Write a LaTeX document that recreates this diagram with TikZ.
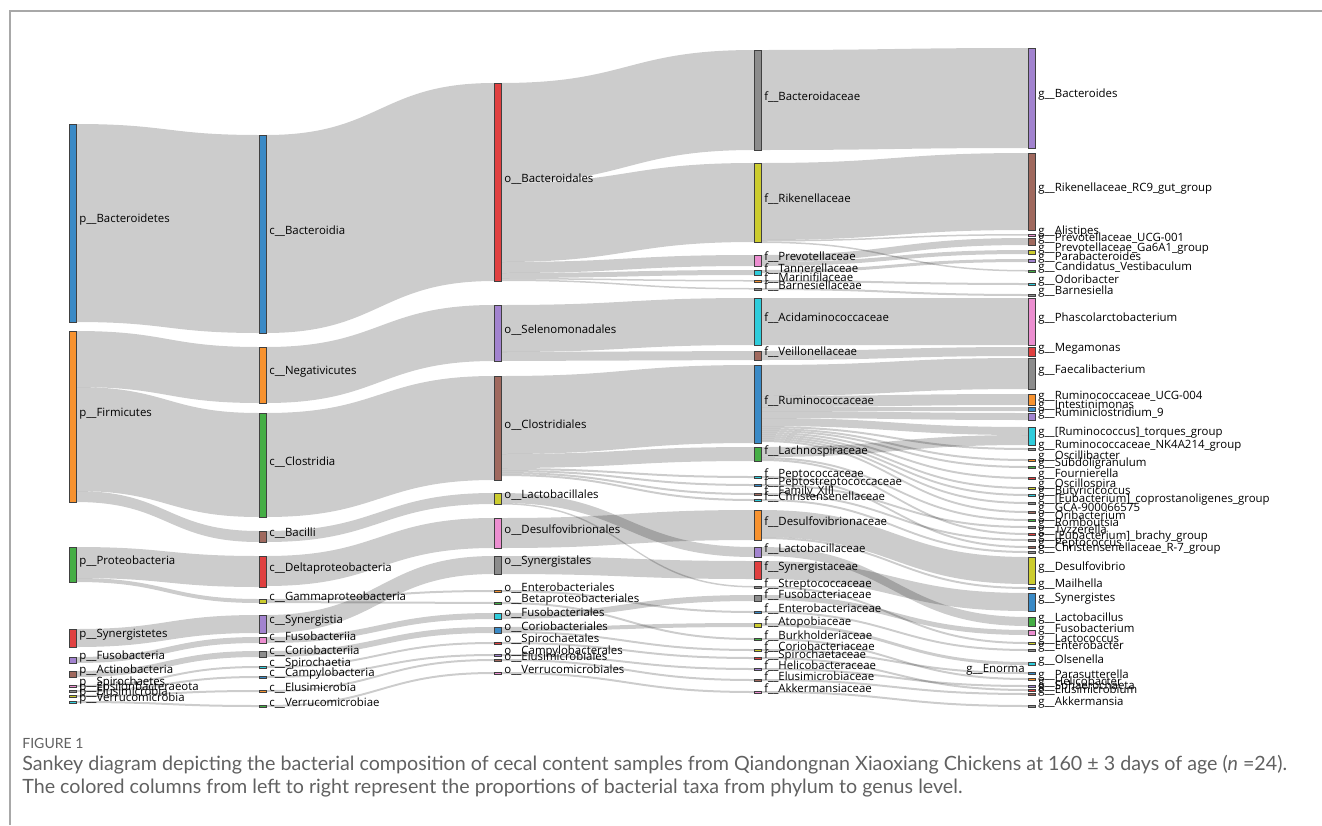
\documentclass[tikz,border=0pt]{standalone}
\usepackage{fontspec}
\setmainfont{Open Sans}
\newfontfamily\capfont{Lato}
\usetikzlibrary{calc}
\pgfdeclarelayer{background}
\pgfsetlayers{background,main}
\definecolor{pblue}{HTML}{3A8AC6}
\definecolor{porange}{HTML}{F7922F}
\definecolor{pgreen}{HTML}{45AE45}
\definecolor{pred}{HTML}{E04040}
\definecolor{ppurple}{HTML}{A283CF}
\definecolor{pbrown}{HTML}{A0695E}
\definecolor{ppink}{HTML}{EC8ED0}
\definecolor{pgray}{HTML}{8C8C8C}
\definecolor{polive}{HTML}{CCCC2E}
\definecolor{pcyan}{HTML}{2FCCDB}
\definecolor{framegray}{HTML}{A8A8A8}
\definecolor{capgray}{HTML}{616161}

% band between two bars: source, offset, target, offset, width (all in px)
\newcommand{\flowband}[5]{%
  \fill[band] let \p1=($(#1.north east)+(0,#2)$), \p2=($(#3.north west)+(0,#4)$),
    \p3=($(#1.north east)+(0,#2+#5)$), \p4=($(#3.north west)+(0,#4+#5)$) in
    (\p1) .. controls ({(\x1+\x2)/2},\y1) and ({(\x1+\x2)/2},\y2) .. (\p2)
    -- (\p4) .. controls ({(\x1+\x2)/2},\y4) and ({(\x1+\x2)/2},\y3) .. (\p3) -- cycle;}

\begin{document}
\begin{tikzpicture}[x=0.02cm, y=-0.02cm,
    taxbar/.style={rectangle, draw=black!75, line width=0.35pt, minimum width=0.14cm, inner sep=0, outer sep=0},
    taxlabel/.style={anchor=west, inner sep=0, font=\fontsize{6.5}{7}\selectfont},
    band/.style={fill=black, fill opacity=0.2},
    capfig/.style={anchor=west, inner sep=0, text=capgray, font=\capfont\fontsize{8}{9}\selectfont},
    captxt/.style={anchor=west, inner sep=0, text=capgray, font=\capfont\fontsize{11.2}{13}\selectfont}]

  \useasboundingbox (0,0) rectangle (1322,825);

  % Frame
  \draw[framegray, line width=0.6pt] (10,825) -- (10,11) -- (1322,11);

  % Phylum column
  \foreach \nm/\ya/\yb/\col/\txt in {
      pBac/124/322/pblue/p\_\_Bacteroidetes, pFir/331/502/porange/p\_\_Firmicutes,
      pPro/547/582/pgreen/p\_\_Proteobacteria, pSyn/629/647/pred/p\_\_Synergistetes,
      pFus/657/663/ppurple/p\_\_Fusobacteria, pAct/671/677/pbrown/p\_\_Actinobacteria,
      pSpi/685/687/ppink/p\_\_Spirochaetes, pEps/690/692/pgray/p\_\_Epsilonbacteraeota,
      pElu/695/697/polive/p\_\_Elusimicrobia, pVer/701/703/pcyan/p\_\_Verrucomicrobia} {
    \node[taxbar, fill=\col, minimum height={max(\yb-\ya,2)*0.02cm}] (\nm) at (72.5,{(\ya+\yb)/2}) {};
    \node[taxlabel] (\nm-l) at ($(\nm.east)+(3,-3)$) {\txt};
  }

  % Class column
  \foreach \nm/\ya/\yb/\col/\txt in {
      cBac/135/333/pblue/c\_\_Bacteroidia, cNeg/347/403/porange/c\_\_Negativicutes,
      cClo/413/517/pgreen/c\_\_Clostridia, cBaci/531/542/pbrown/c\_\_Bacilli,
      cDel/556/587/pred/c\_\_Deltaproteobacteria, cGam/599/603/polive/c\_\_Gammaproteobacteria,
      cSyn/615/633/ppurple/c\_\_Synergistia, cFus/637/643/ppink/c\_\_Fusobacteriia,
      cCor/651/657/pgray/c\_\_Coriobacteriia, cSpi/666/668/pcyan/c\_\_Spirochaetia,
      cCam/676/678/pblue/c\_\_Campylobacteria, cElu/690/692/porange/c\_\_Elusimicrobia,
      cVer/705/707/pgreen/c\_\_Verrucomicrobiae} {
    \node[taxbar, fill=\col, minimum height={max(\yb-\ya,2)*0.02cm}] (\nm) at (262.5,{(\ya+\yb)/2}) {};
    \node[taxlabel] (\nm-l) at ($(\nm.east)+(3,-3)$) {\txt};
  }

  % Order column
  \foreach \nm/\ya/\yb/\col/\txt in {
      oBac/83/281/pred/o\_\_Bacteroidales, oSel/305/361/ppurple/o\_\_Selenomonadales,
      oClo/376/480/pbrown/o\_\_Clostridiales, oLac/493/504/polive/o\_\_Lactobacillales,
      oDes/518/548/ppink/o\_\_Desulfovibrionales, oSyn/556/574/pgray/o\_\_Synergistales,
      oEnt/590/592/porange/o\_\_Enterobacteriales, oBet/602/604/pgreen/o\_\_Betaproteobacteriales,
      oFus/613/619/pcyan/o\_\_Fusobacteriales, oCor/627/633/pblue/o\_\_Coriobacteriales,
      oSpi/642/644/pred/o\_\_Spirochaetales, oCam/654/656/ppurple/o\_\_Campylobacterales,
      oElu/659/661/pbrown/o\_\_Elusimicrobiales, oVer/672/674/ppink/o\_\_Verrucomicrobiales} {
    \node[taxbar, fill=\col, minimum height={max(\yb-\ya,2)*0.02cm}] (\nm) at (497.5,{(\ya+\yb)/2}) {};
    \node[taxlabel] (\nm-l) at ($(\nm.east)+(3,-3)$) {\txt};
  }

  % Family column
  \foreach \nm/\ya/\yb/\col/\txt in {
      fBact/50/150/pgray/f\_\_Bacteroidaceae, fRik/163/242/polive/f\_\_Rikenellaceae,
      fPre/255/266/ppink/f\_\_Prevotellaceae, fTan/270/275/pcyan/f\_\_Tannerellaceae,
      fMar/280/282/porange/f\_\_Marinifilaceae, fBar/288/290/pgray/f\_\_Barnesiellaceae,
      fAci/298/345/pcyan/f\_\_Acidaminococcaceae, fVei/351/360/pbrown/f\_\_Veillonellaceae,
      fRum/365/443/pblue/f\_\_Ruminococcaceae, fLac/447/461/pgreen/f\_\_Lachnospiraceae,
      fPco/476/478/pcyan/f\_\_Peptococcaceae, fPst/484/486/pblue/f\_\_Peptostreptococcaceae,
      fF13/493/495/pbrown/f\_\_Family\_XIII, fChr/499/501/pcyan/f\_\_Christensenellaceae,
      fDes/510/540/porange/f\_\_Desulfovibrionaceae, fLab/547/557/ppurple/f\_\_Lactobacillaceae,
      fSyn/561/579/pred/f\_\_Synergistaceae, fStr/586/588/pgray/f\_\_Streptococcaceae,
      fFus/595/601/pgray/f\_\_Fusobacteriaceae, fEnt/611/613/pblue/f\_\_Enterobacteriaceae,
      fAto/623/627/polive/f\_\_Atopobiaceae, fBur/638/640/pgreen/f\_\_Burkholderiaceae,
      fCor/649/651/polive/f\_\_Coriobacteriaceae, fSpi/657/659/pred/f\_\_Spirochaetaceae,
      fHel/668/670/ppurple/f\_\_Helicobacteraceae, fElu/679/681/pbrown/f\_\_Elusimicrobiaceae,
      fAkk/691/693/ppink/f\_\_Akkermansiaceae} {
    \node[taxbar, fill=\col, minimum height={max(\yb-\ya,2)*0.02cm}] (\nm) at (757.5,{(\ya+\yb)/2}) {};
    \node[taxlabel] (\nm-l) at ($(\nm.east)+(3,-3)$) {\txt};
  }

  % Genus column
  \foreach \nm/\ya/\yb/\col/\txt in {
      gBac/48/148/ppurple/g\_\_Bacteroides, gRC9/153/230/pbrown/g\_\_Rikenellaceae\_RC9\_gut\_group,
      gAli/234/236/ppink/g\_\_Alistipes, gPUC/238/245/pbrown/g\_\_Prevotellaceae\_UCG-001,
      gPGa/250/254/polive/g\_\_Prevotellaceae\_Ga6A1\_group, gPar/259/262/ppurple/g\_\_Parabacteroides,
      gCan/270/272/pgreen/g\_\_Candidatus\_Vestibaculum, gOdo/283/285/pcyan/g\_\_Odoribacter,
      gBar/294/296/pgray/g\_\_Barnesiella, gPha/298/345/ppink/g\_\_Phascolarctobacterium,
      gMeg/347/356/pred/g\_\_Megamonas, gFae/358/389/pgray/g\_\_Faecalibacterium,
      gRU4/394/405/porange/g\_\_Ruminococcaceae\_UCG-004, gInt/407/411/pblue/g\_\_Intestinimonas,
      gRc9/413/420/ppurple/g\_\_Ruminiclostridium\_9, gTor/427/445/pcyan/g\_\_[Ruminococcus]\_torques\_group,
      gNK4/448/450/pgray/g\_\_Ruminococcaceae\_NK4A214\_group, gOsb/459/461/porange/g\_\_Oscillibacter,
      gSub/466/468/pgreen/g\_\_Subdoligranulum, gFou/477/479/pred/g\_\_Fournierella,
      gOsp/487/489/polive/g\_\_Oscillospira, gBut/494/496/pcyan/g\_\_Butyricicoccus,
      gCop/502/504/pgray/g\_\_[Eubacterium]\_coprostanoligenes\_group, gGCA/511/513/pbrown/g\_\_GCA-900066575,
      gOri/519/521/pgreen/g\_\_Oribacterium, gRom/526/528/pgray/g\_\_Romboutsia,
      gTyz/533/535/pred/g\_\_Tyzzerella, gBra/539/541/pgray/g\_\_[Eubacterium]\_brachy\_group,
      gPep/546/548/pbrown/g\_\_Peptococcus, gR7/551/553/pgray/g\_\_Christensenellaceae\_R-7\_group,
      gDsv/557/584/polive/g\_\_Desulfovibrio, gMai/587/589/pblue/g\_\_Mailhella,
      gSyn/593/611/pblue/g\_\_Synergistes, gLab/617/626/pgreen/g\_\_Lactobacillus,
      gFus/630/635/ppink/g\_\_Fusobacterium, gLcc/642/644/polive/g\_\_Lactococcus,
      gEnb/649/651/pgray/g\_\_Enterobacter, gOls/662/665/pcyan/g\_\_Olsenella,
      gPas/678/680/porange/g\_\_Parasutterella, gHel/685/687/ppurple/g\_\_Helicobacter,
      gSph/689/691/pred/g\_\_Sphaerochaeta, gElu/693/695/pbrown/g\_\_Elusimicrobium,
      gAkk/705/707/pgray/g\_\_Akkermansia} {
    \node[taxbar, fill=\col, minimum height={max(\yb-\ya,2)*0.02cm}] (\nm) at (1031.5,{(\ya+\yb)/2}) {};
    \node[taxlabel] (\nm-l) at ($(\nm.east)+(3,-3)$) {\txt};
  }
  \node[taxbar, fill=pblue, minimum height=0.04cm] (gEno) at (1031.5,673) {};
  \node[taxlabel, anchor=east] (gEno-l) at ($(gEno.west)+(-3,-3)$) {g\_\_Enorma};

  % Flows
  \begin{pgfonlayer}{background}
  \foreach \s/\so/\t/\to/\w in {
      pBac/0/cBac/0/198, pFir/0/cNeg/0/56, pFir/56/cClo/0/104, pFir/160/cBaci/0/11,
      pPro/0/cDel/0/31, pPro/31/cGam/0/4, pSyn/0/cSyn/0/18, pFus/0/cFus/0/6,
      pAct/0/cCor/0/6, pSpi/0/cSpi/0/2, pEps/0/cCam/0/2, pElu/0/cElu/0/2, pVer/0/cVer/0/2,
      cBac/0/oBac/0/198, cNeg/0/oSel/0/56, cClo/0/oClo/0/104, cBaci/0/oLac/0/11,
      cDel/0/oDes/0/30, cGam/0/oEnt/0/2, cGam/2/oBet/0/2, cSyn/0/oSyn/0/18,
      cFus/0/oFus/0/6, cCor/0/oCor/0/6, cSpi/0/oSpi/0/2, cCam/0/oCam/0/2,
      cElu/0/oElu/0/2, cVer/0/oVer/0/2,
      oBac/0/fBact/0/100, oBac/100/fRik/0/79, oBac/179/fPre/0/11, oBac/190/fTan/0/5,
      oBac/195/fMar/0/1.5, oBac/196.5/fBar/0/1.5, oSel/0/fAci/0/47, oSel/47/fVei/0/9,
      oClo/0/fRum/0/78, oClo/78/fLac/0/14, oClo/92/fPco/0/2, oClo/94/fPst/0/2,
      oClo/96/fF13/0/2, oClo/98/fChr/0/2, oLac/0/fLab/0/10, oLac/10/fStr/0/1.5,
      oDes/0/fDes/0/30, oSyn/0/fSyn/0/18, oEnt/0/fEnt/0/2, oBet/0/fBur/0/2,
      oFus/0/fFus/0/6, oCor/0/fAto/0/4, oCor/4/fCor/0/2, oSpi/0/fSpi/0/2,
      oCam/0/fHel/0/2, oElu/0/fElu/0/2, oVer/0/fAkk/0/2,
      fBact/0/gBac/0/100, fRik/0/gRC9/0/77, fRik/77/gAli/0/1.5, fRik/78.5/gCan/0/1.5,
      fPre/0/gPUC/0/7, fPre/7/gPGa/0/4, fTan/0/gPar/0/3, fMar/0/gOdo/0/2, fBar/0/gBar/0/2,
      fAci/0/gPha/0/47, fVei/0/gMeg/0/9,
      fRum/0/gFae/0/31, fRum/31/gRU4/0/11, fRum/42/gInt/0/4, fRum/46/gRc9/0/7,
      fRum/53/gTor/0/8, fRum/61/gNK4/0/2, fRum/63/gOsb/0/2, fRum/65/gSub/0/2,
      fRum/67/gFou/0/2, fRum/69/gOsp/0/2, fRum/71/gBut/0/2, fRum/73/gCop/0/2, fRum/75/gGCA/0/2,
      fLac/0/gTor/8/10, fLac/10/gOri/0/2, fLac/12/gTyz/0/2,
      fPco/0/gPep/0/2, fPst/0/gRom/0/2, fF13/0/gBra/0/2, fChr/0/gR7/0/2,
      fDes/0/gDsv/0/27, fDes/27/gMai/0/2, fLab/0/gLab/0/9, fSyn/0/gSyn/0/18,
      fStr/0/gLcc/0/2, fFus/0/gFus/0/5, fEnt/0/gEnb/0/2, fAto/0/gOls/0/3,
      fBur/0/gPas/0/2, fCor/0/gEno/0/2, fSpi/0/gSph/0/2, fHel/0/gHel/0/2,
      fElu/0/gElu/0/2, fAkk/0/gAkk/0/2} {
    \flowband{\s}{\so}{\t}{\to}{\w}
  }
  \end{pgfonlayer}

  % Caption
  \node[capfig] (figno) at (22,743) {FIGURE 1};
  \node[captxt] (capA) at (22,765) {Sankey diagram depicting the bacterial composition of cecal content samples from Qiandongnan Xiaoxiang Chickens at 160 ± 3 days of age (\textit{n} =24).};
  \node[captxt] (capB) at (22,788) {The colored columns from left to right represent the proportions of bacterial taxa from phylum to genus level.};

\end{tikzpicture}
\end{document}
